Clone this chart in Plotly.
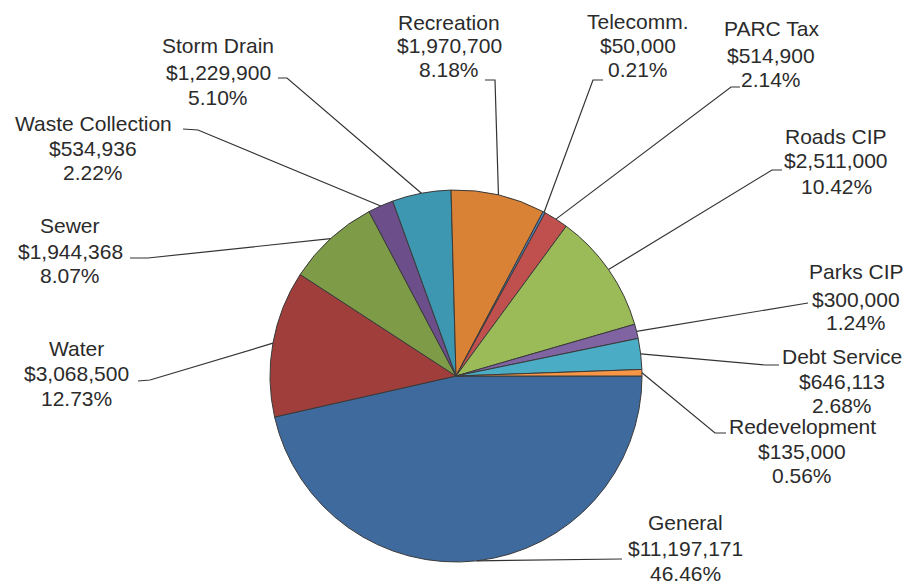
import math
import plotly.graph_objects as go

# ---- data ----
categories = ["General", "Water", "Sewer", "Waste Collection", "Storm Drain",
              "Recreation", "Telecomm.", "PARC Tax", "Roads CIP", "Parks CIP",
              "Debt Service", "Redevelopment"]
values = [11197171, 3068500, 1944368, 534936, 1229900,
          1970700, 50000, 514900, 2511000, 300000,
          646113, 135000]
colors = ["#3F6A9E", "#9F3E3A", "#7E9B47", "#6B4E8A", "#3D97B0",
          "#D98135", "#4F81BD", "#C0504D", "#9BBB59", "#8064A2",
          "#4BACC6", "#F79646"]

# ---- layout (pixels in the window) ----
W, H = 913, 585
OFF = 8  # page body margin
CX, CY, R = 456, 376, 186

# label centre x and y of each of the three text lines
label_layout = {
    "General": (685, [522, 548, 573]),
    "Water": (76, [348, 373, 398]),
    "Sewer": (70, [225, 251, 276]),
    "Waste Collection": (93, [124, 148, 172]),
    "Storm Drain": (218, [46, 72, 97]),
    "Recreation": (449, [22, 46, 70]),
    "Telecomm.": (638, [21, 45, 70]),
    "PARC Tax": (771, [29, 55, 79]),
    "Roads CIP": (836, [136, 161, 186]),
    "Parks CIP": (856, [272, 299, 322]),
    "Debt Service": (842, [356, 381, 405]),
    "Redevelopment": (802, [426, 451, 475]),
}
# leader line points near the label (pie end is computed from data)
leader_layout = {
    "General": [(622, 559)],
    "Water": [(138, 381), (150, 380)],
    "Sewer": [(130, 258), (148, 258)],
    "Waste Collection": [(183, 129), (198, 130)],
    "Storm Drain": [(278, 78), (287, 78)],
    "Recreation": [(485, 80), (495, 80)],
    "Telecomm.": [(603, 80), (593, 80)],
    "PARC Tax": [(740, 87), (731, 87)],
    "Roads CIP": [(782, 170), (772, 170)],
    "Parks CIP": [(808, 303)],
    "Debt Service": [(779, 365), (765, 365)],
    "Redevelopment": [(726, 433), (715, 433)],
}


def px(x):
    return (x - OFF) / W


def py(y):
    return 1 - (y - OFF) / H


total = sum(values)

fig = go.Figure()
fig.add_trace(go.Pie(
    labels=categories, values=values, sort=False, direction="clockwise",
    rotation=90, textinfo="none", textposition="none", hoverinfo="label+value+percent",
    marker=dict(colors=colors, line=dict(color="#3a3a3a", width=1)),
    domain=dict(x=[px(CX - R), px(CX + R)], y=[py(CY + R), py(CY - R)]),
    showlegend=False,
))

annotations = []
shapes = []
cum = 0.0
font = dict(family="Liberation Sans, Arial, sans-serif", size=21, color="#2b2b2b")
for name, v in zip(categories, values):
    frac = v / total
    mid = cum + frac / 2
    cum += frac
    theta = 2 * math.pi * mid  # clockwise from 3 o'clock
    ex = CX + R * math.cos(theta)
    ey = CY + R * math.sin(theta)

    lx, lys = label_layout[name]
    texts = [name, f"${v:,}", f"{frac * 100:.2f}%"]
    for t, ly in zip(texts, lys):
        annotations.append(dict(
            x=px(lx), y=py(ly), xref="paper", yref="paper", text=t,
            showarrow=False, xanchor="center", yanchor="middle", font=font))

    pts = leader_layout[name] + [(ex, ey)]
    path = "M " + " L ".join(f"{px(x):.5f},{py(y):.5f}" for x, y in pts)
    shapes.append(dict(type="path", path=path, xref="paper", yref="paper",
                       line=dict(color="#333333", width=1.2)))

fig.update_layout(
    width=W, height=H, margin=dict(l=0, r=0, t=0, b=0),
    paper_bgcolor="white", plot_bgcolor="white",
    annotations=annotations, shapes=shapes,
)

fig.write_html("out.html")
